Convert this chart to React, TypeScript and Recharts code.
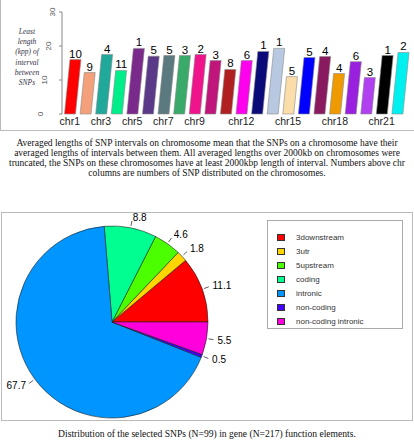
import React from 'react';
import { BarChart, Bar, XAxis, YAxis, Cell, LabelList, PieChart, Pie, Legend } from 'recharts';

const chromosomes = ['chr1','chr2','chr3','chr4','chr5','chr6','chr7','chr8','chr9','chr10','chr11','chr12','chr13','chr14','chr15','chr16','chr17','chr18','chr19','chr20','chr21','chr22'];
const avgIntervalLength = [16.0, 12.2, 17.5, 12.8, 19.3, 17.0, 17.2, 17.2, 17.5, 15.7, 13.1, 15.7, 18.4, 19.3, 11.0, 16.6, 16.9, 11.9, 15.4, 10.7, 17.2, 18.1];
const snpCounts = [10, 9, 4, 11, 1, 5, 5, 3, 2, 3, 8, 6, 1, 1, 5, 5, 4, 4, 6, 3, 1, 2];
const barColors = ['#FF0000','#F4A07A','#20A89A','#00EE8A','#7A2A8A','#5A3A88','#5A7A80','#3AAA6A','#F0148C','#C0157A','#B02020','#FF00EE','#0A0A78','#B8C8E0','#FADDA8','#0000FF','#8A1A60','#EE9A00','#9A20E0','#B040F0','#000000','#00F0F0'];
const shownChrTicks = ['chr1','chr3','chr5','chr7','chr9','chr12','chr15','chr18','chr21'];
const yTicks = [0, 5, 10, 15, 20, 25, 30];
const yTitleLines = ['Least', 'length', '(kpp) of', 'interval', 'between', 'SNPs'];

const captionTop = [
  'Averaged lengths of SNP intervals on chromosome mean that the SNPs on a chromosome have their',
  'averaged lengths of intervals between them. All averaged lengths over 2000kb on chromosomes were',
  'truncated, the SNPs on these chromosomes have at least 2000kbp length of interval. Numbers above chr',
  'columns are numbers of SNP distributed on the chromosomes.',
];
const captionBottom = 'Distribution of the selected SNPs (N=99) in gene (N=217) function elements.';

const elementNames = ['3downstream', '3utr', '5upstream', 'coding', 'intronic', 'non-coding', 'non-coding intronic'];
const elementPercents = [11.1, 1.8, 4.6, 8.8, 67.7, 0.5, 5.5];
const elementColors = ['#FF0000', '#FFD500', '#4CFF00', '#00FF90', '#0095FF', '#4400FF', '#FF00DD'];

const barData = chromosomes.map((c, i) => ({ chr: c, len: avgIntervalLength[i], n: snpCounts[i] }));
const pieData = elementNames.map((n, i) => ({ name: n, value: elementPercents[i] }));

const SANS = '"Liberation Sans", Arial, sans-serif';
const SERIF = '"Liberation Serif", "Times New Roman", serif';
const SLANT = 0.1;

const SlantBar = (props: any) => {
  const { x, y, width, height, fill } = props;
  if (!height || height <= 0) return <g />;
  const s = height * SLANT;
  const pts = `${x},${y + height} ${x + width},${y + height} ${x + width + s},${y} ${x + s},${y}`;
  return <polygon points={pts} fill={fill} stroke="#8a8a8a" strokeWidth={0.6} />;
};

const CountLabel = (props: any) => {
  const { x, y, width, height, value } = props;
  const s = (height || 0) * SLANT;
  return (
    <text x={x + width / 2 + s} y={y - 2} textAnchor="middle" fontFamily={SANS} fontSize={11.5} fill="#000">
      {value}
    </text>
  );
};

const ChrTick = (props: any) => {
  const { x, payload } = props;
  if (!shownChrTicks.includes(payload.value)) return <g />;
  return (
    <text x={x} y={124.5} textAnchor="middle" fontFamily={SANS} fontSize={10.5} fill="#222">
      {payload.value}
    </text>
  );
};

const LenTick = (props: any) => {
  const { y, payload } = props;
  const tx = 42.5 + payload.value * 0.4;
  return (
    <text x={tx} y={y} transform={`rotate(-90 ${tx} ${y})`} textAnchor="middle" fontFamily={SANS} fontSize={8} fill="#555">
      {payload.value}
    </text>
  );
};

const RADIAN = Math.PI / 180;
const PieLabel = (props: any) => {
  const { cx, cy, midAngle, outerRadius, value } = props;
  const cos = Math.cos(-midAngle * RADIAN);
  const sin = Math.sin(-midAngle * RADIAN);
  const r1 = outerRadius + 2;
  const r2 = outerRadius + 7;
  const r3 = outerRadius + 11;
  const anchor = cos >= 0 ? 'start' : 'end';
  return (
    <g>
      <line x1={cx + r1 * cos} y1={cy + r1 * sin} x2={cx + r2 * cos} y2={cy + r2 * sin} stroke="#333" strokeWidth={0.8} />
      <text x={cx + r3 * cos} y={cy + r3 * sin} textAnchor={anchor} dominantBaseline="central" fontFamily={SANS} fontSize={10} fill="#000">
        {value}
      </text>
    </g>
  );
};

const LegendBox = () => (
  <div style={{ width: 136, height: 109, border: '1px solid #aaa', boxSizing: 'border-box', background: '#fff', paddingTop: 9 }}>
    {elementNames.map((n, i) => (
      <div key={n} style={{ display: 'flex', alignItems: 'center', height: 14, marginLeft: 9 }}>
        <span style={{ width: 8, height: 7, background: elementColors[i], border: '1px solid #333', boxSizing: 'border-box', display: 'inline-block' }} />
        <span style={{ marginLeft: 11, fontFamily: SANS, fontSize: 8, color: '#333', whiteSpace: 'nowrap' }}>{n}</span>
      </div>
    ))}
  </div>
);

export default function App() {
  return (
    <div style={{ position: 'absolute', left: 0, top: 0, width: 414, height: 440, background: '#fff', overflow: 'hidden' }}>
      <div style={{ position: 'absolute', left: 0, top: 0, width: 414, height: 131, borderLeft: '1px solid #bbb', borderBottom: '1px solid #bbb', boxSizing: 'border-box' }} />
      <div style={{ position: 'absolute', left: 0, top: 0 }}>
        <BarChart width={414} height={131} data={barData} margin={{ top: 12, right: 9, left: 40, bottom: 2 }} barCategoryGap="16%">
          <XAxis dataKey="chr" interval={0} axisLine={false} tickLine={false} height={15} tick={<ChrTick />} />
          <YAxis domain={[0, 30]} ticks={yTicks} width={22} axisLine={{ stroke: '#888' }} tickLine={{ stroke: '#888' }} tickSize={3} tick={<LenTick />} />
          <Bar dataKey="len" isAnimationActive={false} shape={<SlantBar />}>
            {barData.map((d, i) => (
              <Cell key={d.chr} fill={barColors[i]} />
            ))}
            <LabelList dataKey="n" content={<CountLabel />} />
          </Bar>
        </BarChart>
      </div>
      <div style={{ position: 'absolute', left: 2, top: 27, width: 50, textAlign: 'center', fontFamily: SERIF, fontStyle: 'italic', fontSize: 7.5, lineHeight: '10.2px', color: '#334' }}>
        {yTitleLines.map((l) => (
          <div key={l}>{l}</div>
        ))}
      </div>
      <div style={{ position: 'absolute', left: 0, top: 137.5, width: 414, textAlign: 'center', fontFamily: SERIF, fontSize: 9.5, lineHeight: '10.3px', color: '#111' }}>
        {captionTop.map((l) => (
          <div key={l} style={{ whiteSpace: 'nowrap' }}>{l}</div>
        ))}
      </div>
      <div style={{ position: 'absolute', left: 1, top: 212, width: 412, height: 209, border: '1px solid #bbb', boxSizing: 'border-box' }} />
      <div style={{ position: 'absolute', left: 0, top: 212 }}>
        <PieChart width={414} height={209} margin={{ top: 0, right: 0, bottom: 0, left: 0 }}>
          <Pie
            data={pieData}
            dataKey="value"
            nameKey="name"
            cx={112}
            cy={110}
            outerRadius={96}
            startAngle={0}
            endAngle={360}
            stroke="#222"
            strokeWidth={0.6}
            label={PieLabel}
            labelLine={false}
            isAnimationActive={false}
          >
            {pieData.map((d, i) => (
              <Cell key={d.name} fill={elementColors[i]} />
            ))}
          </Pie>
          <Legend content={<LegendBox />} wrapperStyle={{ position: 'absolute', left: 267, top: 8, width: 136, height: 109 }} />
        </PieChart>
      </div>
      <div style={{ position: 'absolute', left: 0, top: 427.5, width: 414, textAlign: 'center', fontFamily: SERIF, fontSize: 9.6, lineHeight: '12px', color: '#111', whiteSpace: 'nowrap' }}>
        {captionBottom}
      </div>
    </div>
  );
}
